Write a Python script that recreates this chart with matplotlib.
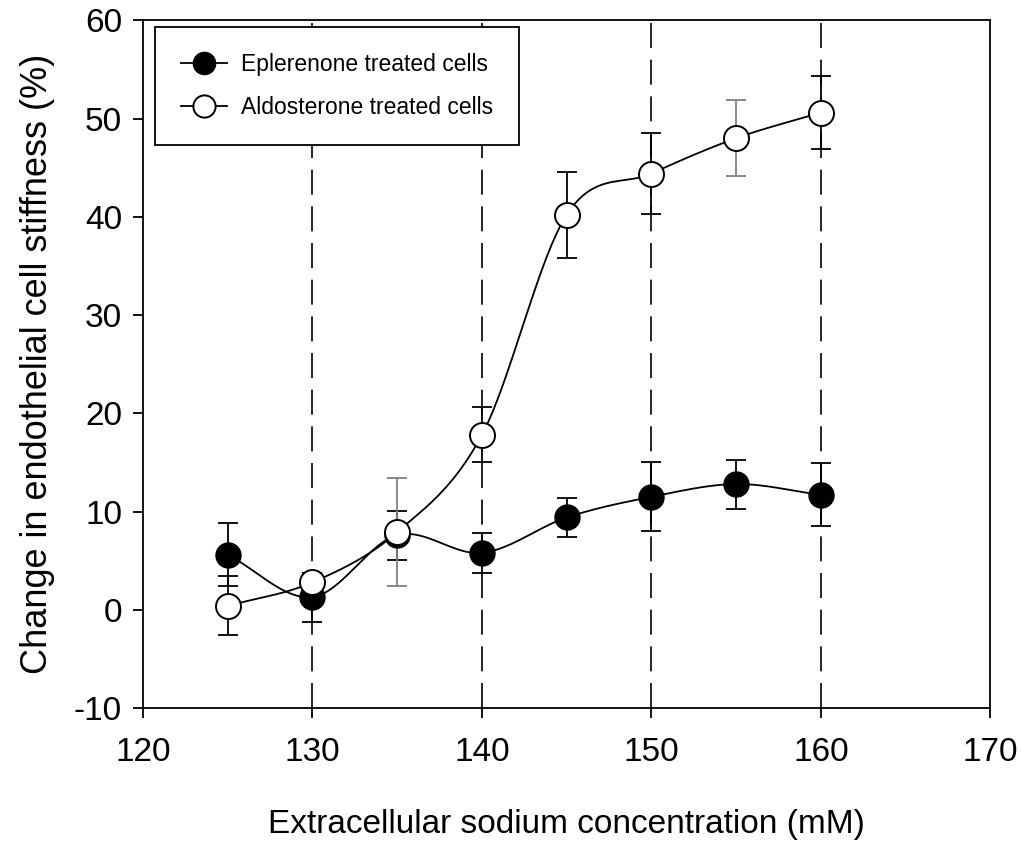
import numpy as np
import matplotlib
matplotlib.use('Agg')
import matplotlib.pyplot as plt

plt.rcParams['font.family'] = ['Liberation Sans', 'DejaVu Sans']
plt.rcParams['axes.unicode_minus'] = False

# Data
sodium = [125, 130, 135, 140, 145, 150, 155, 160]
eplerenone = [5.6, 1.3, 7.6, 5.8, 9.4, 11.5, 12.8, 11.7]
eplerenone_err = [3.2, 2.5, 2.5, 2.0, 2.0, 3.5, 2.5, 3.2]
aldosterone = [0.4, 2.8, 7.9, 17.8, 40.2, 44.4, 48.0, 50.6]
aldosterone_err = [3.0, 1.0, 5.5, 2.8, 4.4, 4.1, 3.9, 3.7]
aldo_err_colors = ['black', 'black', 'gray', 'black', 'black', 'black', 'gray', 'black']
grid_x = [130, 140, 150, 160]


def smooth(x, y, n=40):
    # Catmull-Rom spline through the points, only for drawing the line
    x = np.asarray(x, float)
    y = np.asarray(y, float)
    px = np.concatenate([[2 * x[0] - x[1]], x, [2 * x[-1] - x[-2]]])
    py = np.concatenate([[2 * y[0] - y[1]], y, [2 * y[-1] - y[-2]]])
    xs, ys = [], []
    t = np.linspace(0, 1, n)
    for i in range(1, len(px) - 2):
        for p, out in ((px, xs), (py, ys)):
            p0, p1, p2, p3 = p[i - 1], p[i], p[i + 1], p[i + 2]
            out.append(0.5 * (2 * p1 + (-p0 + p2) * t
                              + (2 * p0 - 5 * p1 + 4 * p2 - p3) * t ** 2
                              + (-p0 + 3 * p1 - 3 * p2 + p3) * t ** 3))
    return np.concatenate(xs), np.concatenate(ys)


fig = plt.figure(figsize=(10.21, 8.44), dpi=100)
ax = fig.add_axes([0.140, 0.161, 0.830, 0.815])

for gx in grid_x:
    ax.axvline(gx, color='black', lw=1.2, linestyle=(0, (15, 7)), zorder=1)

# error bars
for x, y, e in zip(sodium, eplerenone, eplerenone_err):
    ax.errorbar(x, y, yerr=e, fmt='none', ecolor='black', elinewidth=1.3,
                capsize=7, capthick=1.3, zorder=2)
for x, y, e, c in zip(sodium, aldosterone, aldosterone_err, aldo_err_colors):
    ax.errorbar(x, y, yerr=e, fmt='none', ecolor=c, elinewidth=1.3,
                capsize=7, capthick=1.3, zorder=2)

sx, sy = smooth(sodium, eplerenone)
ax.plot(sx, sy, color='black', lw=1.3, zorder=3)
sx, sy = smooth(sodium, aldosterone)
ax.plot(sx, sy, color='black', lw=1.3, zorder=3)

ax.plot(sodium, eplerenone, 'o', color='black', markersize=18, zorder=4)
ax.plot(sodium, aldosterone, 'o', markerfacecolor='white', markeredgecolor='black',
        markeredgewidth=1.4, markersize=18, zorder=5)

# legend handles
h1, = ax.plot([], [], '-o', color='black', lw=1.3, markersize=16)
h2, = ax.plot([], [], '-o', color='black', lw=1.3, markersize=16,
              markerfacecolor='white', markeredgewidth=1.4)
leg = ax.legend([h1, h2], ['Eplerenone treated cells', 'Aldosterone treated cells'],
                loc='upper left', bbox_to_anchor=(0.014, 0.99), borderaxespad=0,
                fontsize=16.5, frameon=True, fancybox=False, edgecolor='black',
                framealpha=1, handlelength=2.0, handletextpad=0.6, borderpad=1.15,
                labelspacing=0.85)
leg.get_frame().set_linewidth(1.3)

ax.set_xlim(120, 170)
ax.set_ylim(-10, 60)
ax.set_xticks(range(120, 171, 10))
ax.set_yticks(range(-10, 61, 10))
ax.tick_params(axis='both', direction='out', length=7, width=1.3, labelsize=24)
ax.tick_params(axis='x', pad=14)
ax.tick_params(axis='y', pad=8)
for s in ax.spines.values():
    s.set_linewidth(1.3)

ax.set_xlabel('Extracellular sodium concentration (mM)', fontsize=24, labelpad=29)
ax.set_ylabel('Change in endothelial cell stiffness (%)', fontsize=26, labelpad=14)

fig.savefig('out.png', dpi=100)
